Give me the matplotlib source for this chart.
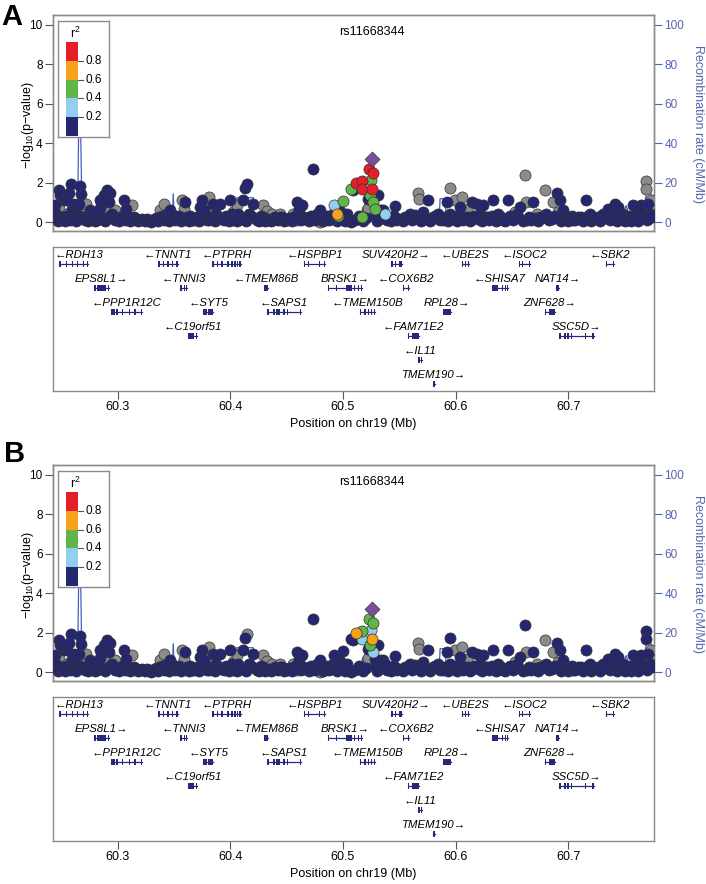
import matplotlib
matplotlib.use('Agg')
import matplotlib.pyplot as plt
from matplotlib.patches import Rectangle
import numpy as np

plt.rcParams['font.family'] = ['Liberation Sans', 'DejaVu Sans']
plt.rcParams['mathtext.fontset'] = 'custom'
plt.rcParams['mathtext.rm'] = 'Liberation Sans'
plt.rcParams['mathtext.it'] = 'Liberation Sans:italic'

# ---------------- data ----------------
LEAD_SNP = 'rs11668344'
lead_pos = 60.5255
lead_logp = 3.20

# SNPs coloured navy (r2 < 0.2) in both panels
navy_pos = [
    60.2440, 60.2447, 60.2456, 60.2468, 60.2477, 60.2486, 60.2495, 60.2506, 60.2521, 60.2530,
    60.2540, 60.2551, 60.2566, 60.2575, 60.2586, 60.2595, 60.2605, 60.2616, 60.2625, 60.2632,
    60.2645, 60.2654, 60.2663, 60.2675, 60.2684, 60.2690, 60.2713, 60.2725, 60.2740, 60.2752,
    60.2765, 60.2773, 60.2793, 60.2800, 60.2817, 60.2830, 60.2840, 60.2846, 60.2860, 60.2876,
    60.2890, 60.2905, 60.2912, 60.2920, 60.2935, 60.2950, 60.2965, 60.2979, 60.3010, 60.3035,
    60.3059, 60.3065, 60.3077, 60.3097, 60.3110, 60.3127, 60.3145, 60.3171, 60.3185, 60.3201,
    60.3220, 60.3240, 60.3260, 60.3285, 60.3300, 60.3319, 60.3345, 60.3360, 60.3378, 60.3392,
    60.3408, 60.3420, 60.3437, 60.3452, 60.3467, 60.3480, 60.3496, 60.3510, 60.3528, 60.3545,
    60.3565, 60.3585, 60.3600, 60.3615, 60.3630, 60.3645, 60.3659, 60.3680, 60.3703, 60.3720,
    60.3733, 60.3748, 60.3760, 60.3769, 60.3792, 60.3810, 60.3830, 60.3851, 60.3865, 60.3875,
    60.3895, 60.3910, 60.3925, 60.3940, 60.3960, 60.3985, 60.3999, 60.4014, 60.4029, 60.4045,
    60.4060, 60.4073, 60.4095, 60.4117, 60.4132, 60.4140, 60.4162, 60.4180, 60.4206, 60.4220,
    60.4236, 60.4255, 60.4275, 60.4294, 60.4310, 60.4340, 60.4360, 60.4383, 60.4400, 60.4425,
    60.4442, 60.4460, 60.4480, 60.4500, 60.4520, 60.4545, 60.4570, 60.4590, 60.4610, 60.4625,
    60.4640, 60.4655, 60.4680, 60.4700, 60.4715, 60.4738, 60.4750, 60.4768, 60.4785, 60.4797,
    60.4820, 60.4841, 60.4860, 60.4880, 60.4900, 60.4915, 60.4945, 60.4974, 60.5000, 60.5015,
    60.5033, 60.5050, 60.5075, 60.5092, 60.5110, 60.5140, 60.5180, 60.5200, 60.5225, 60.5290,
    60.5300, 60.5314, 60.5330, 60.5345, 60.5358, 60.5390, 60.5417, 60.5430, 60.5450, 60.5462,
    60.5480, 60.5506, 60.5530, 60.5550, 60.5570, 60.5595, 60.5610, 60.5639, 60.5655, 60.5683,
    60.5695, 60.5713, 60.5730, 60.5757, 60.5770, 60.5801, 60.5820, 60.5846, 60.5860, 60.5890,
    60.5905, 60.5920, 60.5935, 60.5949, 60.5970, 60.5993, 60.6010, 60.6025, 60.6038, 60.6065,
    60.6082, 60.6110, 60.6125, 60.6141, 60.6160, 60.6186, 60.6200, 60.6215, 60.6230, 60.6245,
    60.6265, 60.6289, 60.6300, 60.6320, 60.6333, 60.6355, 60.6378, 60.6400, 60.6422, 60.6440,
    60.6466, 60.6480, 60.6510, 60.6541, 60.6555, 60.6570, 60.6600, 60.6629, 60.6650, 60.6670,
    60.6688, 60.6705, 60.6730, 60.6747, 60.6770, 60.6806, 60.6830, 60.6851, 60.6880, 60.6901,
    60.6924, 60.6935, 60.6954, 60.6975, 60.7000, 60.7013, 60.7030, 60.7043, 60.7060, 60.7087,
    60.7110, 60.7130, 60.7161, 60.7175, 60.7191, 60.7205, 60.7220, 60.7240, 60.7264, 60.7280,
    60.7309, 60.7325, 60.7353, 60.7370, 60.7395, 60.7412, 60.7430, 60.7441, 60.7460, 60.7486,
    60.7505, 60.7515, 60.7545, 60.7560, 60.7574, 60.7590, 60.7604, 60.7620, 60.7634, 60.7648,
    60.7660, 60.7678, 60.7700, 60.7707, 60.7722, 60.7740,
]
navy_logp = [
    0.30, 0.86, 0.44, 0.08, 1.66, 1.37, 0.22, 0.19, 1.12, 0.05,
    0.33, 1.12, 1.50, 0.12, 1.96, 0.69, 0.28, 0.95, 0.19, 0.06,
    0.35, 0.95, 1.84, 1.46, 0.27, 0.20, 0.10, 0.30, 0.05, 0.61,
    0.25, 0.19, 0.44, 0.08, 0.10, 0.30, 0.74, 1.12, 0.15, 1.37,
    0.05, 1.62, 0.28, 1.03, 1.49, 0.44, 0.20, 0.10, 0.06, 0.30,
    1.12, 0.10, 0.69, 0.27, 0.05, 0.10, 0.25, 0.19, 0.08, 0.10,
    0.15, 0.05, 0.19, 0.12, 0.03, 0.10, 0.20, 0.05, 0.27, 0.30,
    0.10, 0.15, 0.44, 0.06, 0.61, 0.22, 0.36, 0.10, 0.18, 0.30,
    0.05, 0.18, 1.03, 0.27, 0.08, 0.30, 0.10, 0.12, 0.27, 0.05,
    0.78, 1.12, 0.25, 0.61, 0.10, 0.10, 0.28, 0.92, 0.05, 0.44,
    0.20, 0.92, 0.19, 0.10, 0.30, 0.05, 1.12, 0.44, 0.10, 0.22,
    0.05, 0.44, 0.15, 1.12, 1.75, 0.05, 0.44, 0.30, 0.92, 0.20,
    0.10, 0.08, 0.30, 0.27, 0.05, 0.18, 0.05, 0.10, 0.25, 0.10,
    0.27, 0.28, 0.05, 0.10, 0.20, 0.08, 0.30, 1.03, 0.69, 0.10,
    0.86, 0.27, 0.20, 0.05, 0.30, 2.70, 0.12, 0.44, 0.22, 0.61,
    0.05, 0.10, 0.30, 0.10, 0.20, 0.44, 0.05, 0.58, 0.25, 0.08,
    0.44, 0.15, 0.04, 1.62, 0.10, 0.30, 0.05, 0.20, 1.17, 0.30,
    0.08, 1.41, 0.61, 0.20, 0.61, 0.10, 0.27, 0.05, 0.30, 0.81,
    0.12, 0.19, 0.05, 0.27, 0.20, 0.44, 0.10, 0.36, 0.25, 0.10,
    0.05, 0.52, 0.20, 1.12, 0.08, 0.27, 0.30, 0.44, 0.10, 0.10,
    0.25, 1.03, 0.05, 0.44, 0.30, 0.19, 0.08, 0.30, 0.78, 0.12,
    0.27, 0.25, 0.05, 1.03, 0.30, 0.91, 0.15, 0.44, 0.05, 0.86,
    0.28, 0.27, 0.10, 0.30, 1.12, 0.08, 0.44, 0.25, 0.10, 0.05,
    1.15, 0.30, 0.12, 0.44, 0.25, 0.78, 0.05, 0.10, 0.28, 0.10,
    1.03, 0.22, 0.05, 0.27, 0.20, 0.44, 0.10, 0.19, 0.30, 1.50,
    1.12, 0.05, 0.61, 0.25, 0.05, 0.27, 0.30, 0.10, 0.12, 0.27,
    0.25, 0.05, 1.12, 0.30, 0.44, 0.08, 0.19, 0.22, 0.27, 0.05,
    0.44, 0.25, 0.69, 0.10, 0.30, 0.91, 0.05, 0.78, 0.20, 0.44,
    0.08, 0.27, 0.30, 0.05, 0.86, 0.18, 0.44, 0.05, 0.61, 0.86,
    0.30, 0.27, 0.10, 0.91, 0.44, 0.25,
]

# SNPs without LD information (grey) in both panels
grey_pos = [
    60.2477, 60.2551, 60.2713, 60.2722, 60.2905, 60.2979, 60.2994, 60.3127, 60.3378, 60.3408,
    60.3570, 60.3591, 60.3733, 60.3786, 60.3807, 60.3851, 60.4028, 60.4058, 60.4087, 60.4294,
    60.4324, 60.4368, 60.4442, 60.4560, 60.4590, 60.4723, 60.4797, 60.5211, 60.5225, 60.5329,
    60.5668, 60.5677, 60.5713, 60.5993, 60.6053, 60.6097, 60.6333, 60.6378, 60.6525, 60.6623,
    60.6718, 60.6792, 60.6866, 60.6910, 60.7427, 60.7737, 60.7752,
]
grey_logp = [
    0.69, 0.44, 0.44, 0.95, 0.69, 0.64, 0.19, 0.90, 0.61, 0.91,
    1.12, 0.69, 0.27, 0.98, 1.29, 0.61, 0.52, 0.86, 0.27, 0.86,
    0.58, 0.44, 0.44, 0.44, 0.10, 0.19, 0.02, 0.61, 0.74, 0.44,
    1.49, 1.20, 0.27, 1.12, 1.29, 0.69, 0.19, 0.10, 0.52, 1.03,
    0.44, 1.62, 1.03, 0.52, 0.19, 1.12, 0.44,
]

# SNPs whose LD colour differs between the panels (r2; None = no LD info)
ld_pos = [60.5234, 60.5264, 60.5249, 60.5116, 60.5167, 60.5170, 60.5255, 60.5069,
          60.5240, 60.5264, 60.5284, 60.5373, 60.5167, 60.4921, 60.5001, 60.4950,
          60.4959, 60.6614, 60.7692, 60.7686, 60.5949, 60.4152]
ld_logp = [2.72, 2.52, 2.17, 2.00, 2.08, 1.68, 1.71, 1.68,
           1.41, 1.03, 0.70, 0.41, 0.27, 0.90, 1.08, 0.44,
           0.30, 2.39, 2.08, 1.71, 1.74, 1.93]
ld_r2_a = [0.9, 0.9, 0.5, 0.9, 0.9, 0.9, 0.9, 0.5,
           0.5, 0.5, 0.5, 0.3, 0.5, 0.3, 0.5, 0.7,
           0.5, None, None, None, None, 0.1]
ld_r2_b = [0.5, 0.5, 0.3, 0.7, 0.5, 0.3, 0.7, 0.1,
           0.5, 0.3, 0.1, 0.1, None, 0.1, 0.1, 0.1,
           0.1, 0.1, 0.1, 0.1, 0.1, None]

# recombination rate (cM/Mb)
recomb_pos = [60.2427, 60.2600, 60.2645, 60.2655, 60.2672, 60.2685, 60.3485, 60.3494,
              60.3503, 60.4053, 60.4058, 60.4205, 60.4210, 60.4880, 60.4950, 60.4985,
              60.5250, 60.5262, 60.5855, 60.5862, 60.5905, 60.5915, 60.6200, 60.6430,
              60.6460, 60.6520, 60.7240, 60.7480, 60.7512, 60.7540, 60.7650, 60.7705,
              60.7760]
recomb_rate = [0.8, 0.8, 2.0, 48.0, 48.0, 1.0, 1.0, 14.5,
               1.2, 1.0, 12.5, 12.5, 0.8, 0.5, 7.8, 1.0,
               1.2, 3.0, 3.5, 12.0, 12.0, 4.5, 4.0, 3.5,
               5.0, 3.0, 4.0, 3.0, 8.5, 4.0, 4.0, 17.0,
               12.0]

# genes
gene_names = ['RDH13', 'TNNT1', 'PTPRH', 'HSPBP1', 'SUV420H2', 'UBE2S', 'ISOC2', 'SBK2',
              'EPS8L1', 'TNNI3', 'TMEM86B', 'BRSK1', 'COX6B2', 'SHISA7', 'NAT14',
              'PPP1R12C', 'SYT5', 'SAPS1', 'TMEM150B', 'RPL28', 'ZNF628',
              'C19orf51', 'FAM71E2', 'SSC5D', 'IL11', 'TMEM190']
gene_start = [60.2477, 60.3363, 60.3842, 60.4655, 60.5426, 60.6053, 60.6564, 60.7330,
              60.2793, 60.3556, 60.4301, 60.4871, 60.5530, 60.6319, 60.6887,
              60.2941, 60.3762, 60.4330, 60.5152, 60.5890, 60.6792,
              60.3621, 60.5580, 60.6916, 60.5668, 60.5800]
gene_end = [60.2737, 60.3532, 60.4094, 60.4841, 60.5521, 60.6118, 60.6659, 60.7406,
            60.2926, 60.3615, 60.4333, 60.5167, 60.5589, 60.6466, 60.6916,
            60.3216, 60.3846, 60.4626, 60.5285, 60.5956, 60.6880,
            60.3709, 60.5675, 60.7229, 60.5704, 60.5816]
gene_strand = ['-', '-', '-', '-', '+', '-', '-', '-',
               '+', '-', '-', '+', '-', '-', '+',
               '-', '-', '-', '-', '+', '+',
               '-', '-', '+', '-', '+']
gene_row = [1, 1, 1, 1, 1, 1, 1, 1,
            2, 2, 2, 2, 2, 2, 2,
            3, 3, 3, 3, 3, 3,
            4, 4, 4, 5, 6]
gene_exons = [
    [(60.2477, 60.2497), (60.2540, 60.2548), (60.2600, 60.2608), (60.2640, 60.2650), (60.2690, 60.2700), (60.2728, 60.2737)],
    [(60.3363, 60.3375), (60.3400, 60.3412), (60.3440, 60.3452), (60.3480, 60.3490), (60.3520, 60.3532)],
    [(60.3842, 60.3855), (60.3880, 60.3890), (60.3920, 60.3935), (60.3975, 60.3985), (60.4005, 60.4020), (60.4035, 60.4050), (60.4060, 60.4070), (60.4080, 60.4094)],
    [(60.4655, 60.4665), (60.4690, 60.4700), (60.4790, 60.4800), (60.4830, 60.4841)],
    [(60.5426, 60.5445), (60.5460, 60.5475), (60.5495, 60.5521)],
    [(60.6053, 60.6063), (60.6080, 60.6088), (60.6108, 60.6118)],
    [(60.6564, 60.6574), (60.6590, 60.6600), (60.6650, 60.6659)],
    [(60.7330, 60.7340), (60.7396, 60.7406)],
    [(60.2793, 60.2805), (60.2815, 60.2900), (60.2912, 60.2926)],
    [(60.3556, 60.3575), (60.3585, 60.3600), (60.3605, 60.3615)],
    [(60.4301, 60.4333)],
    [(60.4871, 60.4878), (60.4900, 60.4907), (60.4940, 60.4948), (60.5030, 60.5080), (60.5095, 60.5105), (60.5130, 60.5140), (60.5160, 60.5167)],
    [(60.5530, 60.5540), (60.5580, 60.5589)],
    [(60.6319, 60.6380), (60.6410, 60.6420), (60.6440, 60.6450), (60.6458, 60.6466)],
    [(60.6887, 60.6916)],
    [(60.2941, 60.2980), (60.2990, 60.3000), (60.3040, 60.3048), (60.3100, 60.3110), (60.3150, 60.3160), (60.3206, 60.3216)],
    [(60.3762, 60.3790), (60.3805, 60.3846)],
    [(60.4330, 60.4345), (60.4380, 60.4395), (60.4410, 60.4440), (60.4470, 60.4485), (60.4500, 60.4510), (60.4616, 60.4626)],
    [(60.5152, 60.5160), (60.5190, 60.5200), (60.5220, 60.5230), (60.5250, 60.5258), (60.5275, 60.5285)],
    [(60.5890, 60.5956)],
    [(60.6792, 60.6800), (60.6830, 60.6880)],
    [(60.3621, 60.3680), (60.3700, 60.3709)],
    [(60.5580, 60.5590), (60.5610, 60.5675)],
    [(60.6916, 60.6935), (60.6960, 60.6975), (60.6990, 60.7005), (60.7020, 60.7030), (60.7150, 60.7160), (60.7210, 60.7229)],
    [(60.5668, 60.5680), (60.5690, 60.5704)],
    [(60.5800, 60.5816)],
]

x_ticks = [60.3, 60.4, 60.5, 60.6, 60.7]
legend_labels = ['0.8', '0.6', '0.4', '0.2']

# ---------------- style ----------------
XMIN, XMAX = 60.2427, 60.7760
LD_COLORS = {0.1: '#24276f', 0.3: '#92cfee', 0.5: '#60b548', 0.7: '#f7a21b', 0.9: '#e51f29'}
GREY = '#8b8b8b'
LEAD_COLOR = '#7b4d9e'
RECOMB_COLOR = '#4a5cc0'
RIGHT_COLOR = '#5564ae'
GENE_COLOR = '#27287a'
FRAME = '#8a8a8a'
W, H = 706, 884


def rect(left, top, right, bottom):
    return [left / W, 1 - bottom / H, (right - left) / W, (bottom - top) / H]


def draw_panel(fig, dy, r2_vals, letter, letter_xy):
    ax = fig.add_axes(rect(53, 15 + dy, 654, 230.7 + dy))
    ax2 = ax.twinx()
    ax.set_zorder(ax2.get_zorder() + 1)
    ax.patch.set_visible(False)

    ax2.plot(recomb_pos, recomb_rate, color=RECOMB_COLOR, lw=0.9, zorder=1)
    ax2.set_ylim(-4.2, 105)
    ax2.set_yticks([0, 20, 40, 60, 80, 100])
    ax2.tick_params(axis='y', colors=RIGHT_COLOR, length=5.5, width=0.8,
                    labelsize=8.5, pad=2)

    # gather points by colour class
    groups = {None: ([], []), 0.1: ([], []), 0.3: ([], []), 0.5: ([], []),
              0.7: ([], []), 0.9: ([], [])}
    for p, v in zip(grey_pos, grey_logp):
        groups[None][0].append(p); groups[None][1].append(v)
    for p, v in zip(navy_pos, navy_logp):
        groups[0.1][0].append(p); groups[0.1][1].append(v)
    for p, v, r in zip(ld_pos, ld_logp, r2_vals):
        groups[r][0].append(p); groups[r][1].append(v)

    kw = dict(s=64, edgecolors='#333333', linewidths=0.5)
    ax.scatter(groups[None][0], groups[None][1], c=GREY, zorder=3, **kw)
    ax.scatter(groups[0.1][0], groups[0.1][1], c=LD_COLORS[0.1], zorder=4, **kw)
    for i, r in enumerate([0.3, 0.5, 0.7, 0.9]):
        if groups[r][0]:
            ax.scatter(groups[r][0], groups[r][1], c=LD_COLORS[r], zorder=5 + i, **kw)
    ax.scatter([lead_pos], [lead_logp], marker='D', s=58, c=LEAD_COLOR,
               edgecolors='#333333', linewidths=0.5, zorder=10)
    ax.text(lead_pos, 9.66, LEAD_SNP, ha='center', va='center', fontsize=9)

    ax.set_xlim(XMIN, XMAX)
    ax.set_ylim(-0.42, 10.5)
    ax.set_yticks([0, 2, 4, 6, 8, 10])
    ax.set_xticks([])
    ax.tick_params(axis='y', length=5.5, width=0.8, color='#555555', labelsize=8.5, pad=2)
    for a in (ax, ax2):
        for s in a.spines.values():
            s.set_color(FRAME)
            s.set_linewidth(1.0)

    # r2 legend box
    lg = ax.inset_axes([(58.3 - 53) / 601, 1 - (136.7 - 15) / 215.7, 51 / 601, 116 / 215.7])
    lg.set_zorder(20)
    lg.set_xlim(0, 51)
    lg.set_ylim(116, 0)
    lg.set_xticks([]); lg.set_yticks([])
    lg.set_facecolor('white')
    for s in lg.spines.values():
        s.set_color(FRAME)
        s.set_linewidth(1.0)
    lg.text(16.7, 12.3, 'r$^2$', ha='center', va='center', fontsize=9)
    block_h = (115 - 21.6) / 5
    for i, r in enumerate([0.9, 0.7, 0.5, 0.3, 0.1]):
        lg.add_patch(Rectangle((7.4, 21.6 + i * block_h), 12.6, block_h,
                               facecolor=LD_COLORS[r], edgecolor='none'))
    for i, lab in enumerate(legend_labels):
        yb = 21.6 + (i + 1) * block_h
        lg.plot([20, 25], [yb, yb], color='#555555', lw=0.8)
        lg.text(27.5, yb, lab, ha='left', va='center', fontsize=8.5)

    # gene track
    axg = fig.add_axes(rect(53, 246.7 + dy, 654, 390.7 + dy))
    axg.set_xlim(XMIN, XMAX)
    axg.set_ylim(144, 0)
    axg.set_yticks([])
    axg.set_xticks(x_ticks)
    axg.set_xticklabels([f'{t:.1f}' for t in x_ticks])
    axg.tick_params(axis='x', length=5.5, width=0.8, color='#555555', labelsize=9, pad=2)
    for s in axg.spines.values():
        s.set_color(FRAME)
        s.set_linewidth(1.0)
    texts = []
    for name, st, en, strand, row, exons in zip(gene_names, gene_start, gene_end,
                                               gene_strand, gene_row, gene_exons):
        yb = 17.3 + 24 * (row - 1)
        axg.plot([st, en], [yb, yb], color=GENE_COLOR, lw=0.9)
        for a, b in exons:
            axg.add_patch(Rectangle((a, yb - 2.7), b - a, 5.4, facecolor=GENE_COLOR,
                                    edgecolor='none'))
        label = '\u2190' + name if strand == '-' else name + '\u2192'
        texts.append(axg.text((st + en) / 2, yb - 8.8, label, ha='center', va='center',
                              fontsize=8.2, style='italic'))

    fig.text(letter_xy[0] / W, 1 - letter_xy[1] / H, letter, fontsize=21,
             fontweight='bold', ha='left', va='baseline')
    fig.text(28 / W, 1 - (125 + dy) / H, '\u2212log$_{10}$(p\u2212value)', rotation=90,
             ha='center', va='center', fontsize=9)
    fig.text(698 / W, 1 - (124 + dy) / H, 'Recombination rate (cM/Mb)', rotation=270,
             ha='center', va='center', fontsize=9, color=RIGHT_COLOR)
    fig.text(353 / W, 1 - (424 + dy) / H, 'Position on chr19 (Mb)', ha='center',
             va='center', fontsize=9)
    return axg, texts


fig = plt.figure(figsize=(W / 100, H / 100), dpi=100)
panels = [draw_panel(fig, 0, ld_r2_a, 'A', (1.5, 25)),
          draw_panel(fig, 450, ld_r2_b, 'B', (4.5, 461.7))]

# keep gene labels inside the gene track
fig.canvas.draw()
renderer = fig.canvas.get_renderer()
for axg, texts in panels:
    abox = axg.get_window_extent(renderer)
    for t in texts:
        bb = t.get_window_extent(renderer)
        shift = 0
        if bb.x0 < abox.x0 + 2:
            shift = abox.x0 + 2 - bb.x0
        elif bb.x1 > abox.x1 - 2:
            shift = abox.x1 - 2 - bb.x1
        if shift:
            x, y = t.get_position()
            disp = axg.transData.transform((x, y))
            t.set_position(axg.transData.inverted().transform((disp[0] + shift, disp[1])))

fig.savefig('out.png', dpi=100)
